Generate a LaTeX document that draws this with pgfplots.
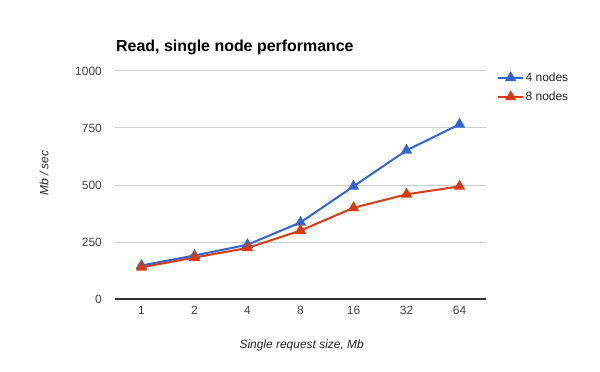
\documentclass[border=0pt]{standalone}
\usepackage{fontspec}
\setmainfont{Liberation Sans}
\usepackage{pgfplots}
\pgfplotsset{compat=1.18}
\definecolor{gblue}{HTML}{3366CC}
\definecolor{gred}{HTML}{DC3912}
\definecolor{ggrid}{HTML}{CCCCCC}
\definecolor{gaxis}{HTML}{333333}
\definecolor{gtext}{HTML}{222222}
\definecolor{gtick}{HTML}{444444}
\begin{document}
\begin{tikzpicture}[x=1bp,y=1bp]
\path[use as bounding box] (0,0) rectangle (600,371);
\begin{axis}[
  at={(115bp,72bp)}, anchor=south west,
  scale only axis, width=371bp, height=228bp,
  xmin=-0.5, xmax=6.5, ymin=0, ymax=1000,
  xtick={0,...,6}, xticklabels={1,2,4,8,16,32,64},
  ytick={0,250,500,750,1000},
  ymajorgrids, grid style={ggrid, line width=1bp},
  axis x line*=bottom, axis y line*=left,
  x axis line style={gaxis, line width=1.2bp, -},
  y axis line style={draw=none},
  major tick length=0pt,
  /pgf/number format/assume math mode=true,
  /pgf/number format/1000 sep={},
  every tick label/.append style={inner sep=0pt, font=\fontsize{12}{14}\selectfont, text=gtick},
  yticklabel style={anchor=east, xshift=-13bp},
  xticklabel style={anchor=north, yshift=-7bp},
  legend style={at={(1.0296,1.0)}, anchor=north west, draw=none, fill=none,
    inner sep=0pt, row sep=6bp, font=\fontsize{12}{14}\selectfont,
    text=gtext, nodes={inner sep=1.5bp}, cells={anchor=west}},
  legend image code/.code={\draw[mark repeat=2,mark phase=2,#1] plot coordinates {(0bp,0bp) (12.5bp,0bp) (25bp,0bp)};},
]
\addplot[gblue, line width=2bp, mark=triangle*, mark size=4.6bp, mark options={solid}] coordinates {
 (0,147) (1,191) (2,238) (3,336) (4,494) (5,652) (6,766)};
\addlegendentry{4 nodes}
\addplot[gred, line width=2bp, mark=triangle*, mark size=4.6bp, mark options={solid}] coordinates {
 (0,139) (1,182) (2,224) (3,300) (4,400) (5,459) (6,494)};
\addlegendentry{8 nodes}
\end{axis}
\node[anchor=base west, inner sep=0pt, font=\fontsize{16}{18}\selectfont\bfseries] at (116,320) {Read, single node performance};
\node[anchor=base, inner sep=0pt, text=gtext, font=\fontsize{12}{14}\selectfont\itshape] at (301.7,22.7) {Single request size, Mb};
\node[rotate=90, inner sep=0pt, text=gtext, font=\fontsize{12}{14}\selectfont\itshape] at (44,197.7) {Mb / sec};
\end{tikzpicture}
\end{document}
